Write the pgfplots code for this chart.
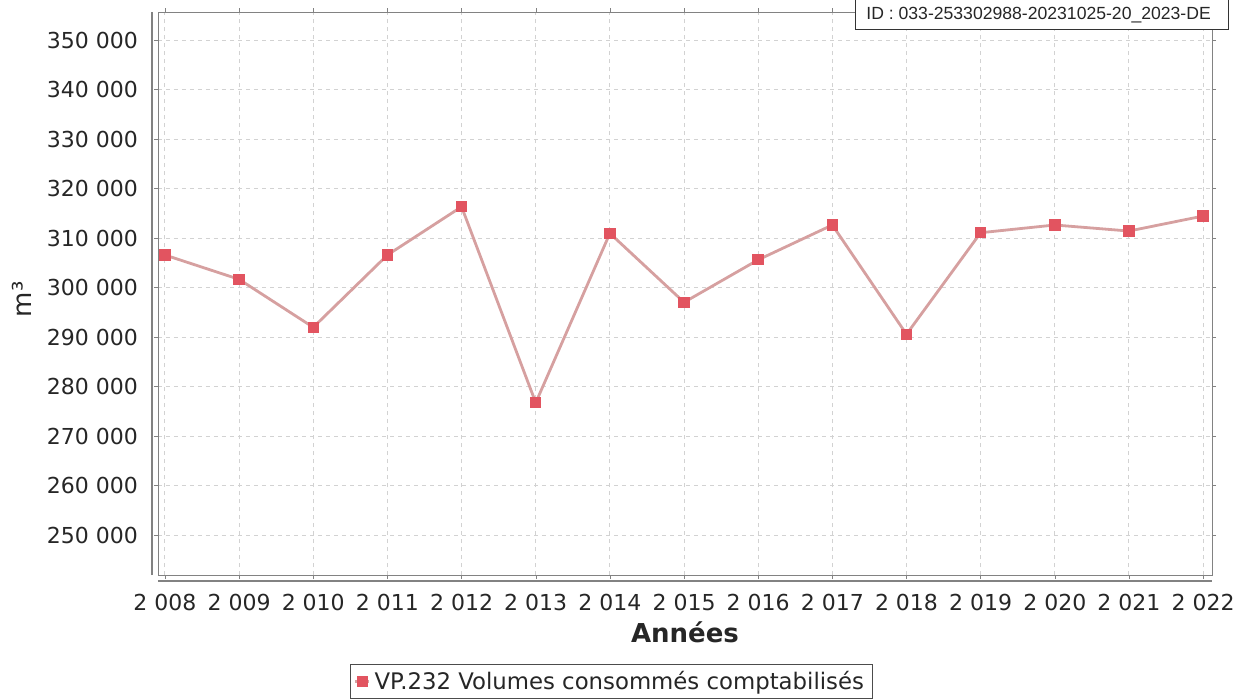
\documentclass[border=0pt]{standalone}
\usepackage{pgfplots}
\pgfplotsset{compat=1.18}
\usepackage{fontspec}
\setmainfont{DejaVu Sans}
\newfontfamily\idfont{Liberation Sans}
\definecolor{linec}{RGB}{214,160,160}
\definecolor{markc}{RGB}{226,84,96}
\definecolor{gridc}{RGB}{210,210,210}
\definecolor{framec}{RGB}{130,130,130}
\begin{document}
\begin{tikzpicture}
\useasboundingbox (-79pt,-61.5pt) rectangle (544pt,287.5pt);
\begin{axis}[
  at={(0,0)}, anchor=south west,
  scale only axis,
  width=527pt, height=281.5pt,
  xmin=2007.906, xmax=2022.12,
  ymin=241920, ymax=355660,
  xtick={2008,2009,2010,2011,2012,2013,2014,2015,2016,2017,2018,2019,2020,2021,2022},
  xticklabels={2 008,2 009,2 010,2 011,2 012,2 013,2 014,2 015,2 016,2 017,2 018,2 019,2 020,2 021,2 022},
  ytick={250000,260000,270000,280000,290000,300000,310000,320000,330000,340000,350000},
  yticklabels={250 000,260 000,270 000,280 000,290 000,300 000,310 000,320 000,330 000,340 000,350 000},
  xticklabel style={font=\fontsize{11}{12}\selectfont, yshift=-4pt, text=black!85},
  yticklabel style={font=\fontsize{11}{12}\selectfont, xshift=-4.5pt, text=black!85},
  scaled y ticks=false,
  tick align=outside,
  major tick length=2pt,
  tick style={framec},
  axis line style={framec},
  grid=major,
  major grid style={gridc, dash pattern=on 2pt off 2pt, line width=0.5pt},
  xlabel={\textbf{Années}},
  xlabel style={font=\fontsize{13}{14}\selectfont, at={(rel axis cs:0.5,-0.101)}, anchor=center, text=black!85},
  ylabel={m³},
  ylabel style={font=\fontsize{13}{14}\selectfont, at={(rel axis cs:-0.129,0.49)}, anchor=center, text=black!85},
  clip=false,
  legend style={at={(rel axis cs:0.4298,-0.158)}, anchor=north, draw=black!70, font=\fontsize{11.4}{12.5}\selectfont, inner xsep=2pt, inner ysep=1.2pt, legend cell align=left, text=black!85},
  legend image code/.code={\draw[#1, mark repeat=2, mark phase=2] plot coordinates {(0cm,0cm) (0.12cm,0cm) (0.24cm,0cm)};},
]
\addplot[linec, line width=1.4pt, mark=square*, mark size=2.6pt, mark options={markc, fill=markc, line width=0pt}]
  coordinates {
  (2008,306570) (2009,301650) (2010,291960) (2011,306570) (2012,316320)
  (2013,276730) (2014,310950) (2015,297010) (2016,305600) (2017,312630)
  (2018,290550) (2019,311070) (2020,312630) (2021,311410) (2022,314440)
  };
\addlegendentry{VP.232 Volumes consommés comptabilisés}
\draw[framec, line width=0.6pt] ([xshift=-3pt]rel axis cs:0,0) -- ([xshift=-3pt]rel axis cs:0,1);
\draw[framec, line width=0.6pt] ([yshift=-3pt]rel axis cs:0,0) -- ([yshift=-3pt]rel axis cs:1,0);
\end{axis}
\node[draw=black!80, line width=0.7pt, fill=white, anchor=south west, minimum width=186.5pt, minimum height=18pt, inner sep=0pt] at (348.5pt,272.5pt) {};
\node[anchor=west, inner sep=0pt, font=\idfont\fontsize{8.8}{10}\selectfont, text=black!85] at (354pt,280pt) {ID : 033-253302988-20231025-20\_2023-DE};
\end{tikzpicture}
\end{document}
